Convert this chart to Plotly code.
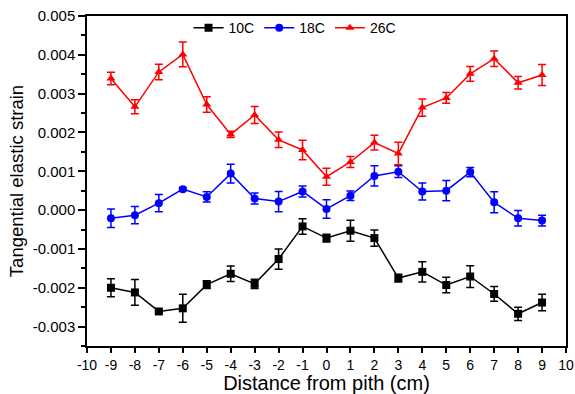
import plotly.graph_objects as go

x = list(range(-9, 10))

y10 = [-0.00200, -0.00212, -0.00261, -0.00253, -0.00192, -0.00164, -0.00190, -0.00126, -0.00042,
       -0.00072, -0.00053, -0.00072, -0.00175, -0.00159, -0.00193, -0.00171, -0.00216, -0.00267, -0.00238]
e10 = [0.00023, 0.00033, 0.00003, 0.00036, 0.00010, 0.00020, 0.00012, 0.00026, 0.00020,
       0.00010, 0.00027, 0.00021, 0.00010, 0.00026, 0.00020, 0.00028, 0.00019, 0.00017, 0.00021]

y18 = [-0.00021, -0.00013, 0.00018, 0.00054, 0.00034, 0.00094, 0.00030, 0.00022, 0.00048,
       0.00003, 0.00037, 0.00088, 0.00099, 0.00048, 0.00050, 0.00098, 0.00020, -0.00021, -0.00027]
e18 = [0.00024, 0.00022, 0.00022, 0.00004, 0.00013, 0.00024, 0.00014, 0.00026, 0.00014,
       0.00024, 0.00012, 0.00026, 0.00015, 0.00022, 0.00026, 0.00012, 0.00027, 0.00020, 0.00014]

y26 = [0.00339, 0.00266, 0.00356, 0.00401, 0.00272, 0.00195, 0.00245, 0.00181, 0.00155,
       0.00086, 0.00124, 0.00174, 0.00146, 0.00264, 0.00289, 0.00351, 0.00390, 0.00328, 0.00348]
e26 = [0.00016, 0.00018, 0.00020, 0.00032, 0.00020, 0.00008, 0.00022, 0.00020, 0.00025,
       0.00022, 0.00014, 0.00019, 0.00029, 0.00022, 0.00014, 0.00019, 0.00020, 0.00016, 0.00027]

series = [
    ("10C", y10, e10, "black", "square"),
    ("18C", y18, e18, "blue", "circle"),
    ("26C", y26, e26, "red", "triangle-up"),
]

xticks = list(range(-10, 11))
xticklabels = [str(v) for v in xticks]
yticks = [-0.003, -0.002, -0.001, 0.0, 0.001, 0.002, 0.003, 0.004, 0.005]
yticklabels = ["-0.003", "-0.002", "-0.001", "0.000", "0.001", "0.002", "0.003", "0.004", "0.005"]
yminor = [-0.0035, -0.0025, -0.0015, -0.0005, 0.0005, 0.0015, 0.0025, 0.0035, 0.0045]

fig = go.Figure()
for name, ys, es, col, sym in series:
    fig.add_trace(go.Scatter(
        x=x, y=ys, name=name, mode="lines+markers",
        line=dict(color=col, width=1.5),
        marker=dict(color=col, symbol=sym, size=8),
        error_y=dict(type="data", array=es, visible=True, color=col, thickness=1.5, width=4),
    ))

font = "Liberation Sans, Arial, sans-serif"
fig.update_layout(
    width=575, height=394,
    margin=dict(l=87, r=9, t=16, b=48),
    paper_bgcolor="white", plot_bgcolor="white",
    font=dict(family=font, color="black", size=15),
    showlegend=True,
    legend=dict(orientation="h", x=0.212, y=1.012, xanchor="left", yanchor="top",
                bgcolor="rgba(0,0,0,0)", font=dict(size=14), itemwidth=30,
                tracegroupgap=0),
    xaxis=dict(range=[-10, 10], tickvals=xticks, ticktext=xticklabels,
               ticks="outside", ticklen=5, tickwidth=1.5, tickcolor="black",
               showline=True, linecolor="black", linewidth=1.5, mirror=True,
               showgrid=False, zeroline=False, automargin=False,
               title=dict(text="Distance from pith (cm)", font=dict(size=20), standoff=0),
               tickfont=dict(size=14)),
    yaxis=dict(range=[-0.0035, 0.005], tickvals=yticks, ticktext=yticklabels,
               ticks="outside", ticklen=7, tickwidth=1.5, tickcolor="black",
               showline=True, linecolor="black", linewidth=1.5, mirror=True,
               showgrid=False, zeroline=False, automargin=False,
               minor=dict(tickvals=yminor, ticks="outside", ticklen=4, tickwidth=1.5,
                          tickcolor="black", showgrid=False),
               title=dict(text="Tangential elastic strain", font=dict(size=18.5), standoff=4),
               tickfont=dict(size=15)),
)

fig.write_html("out.html", config={"displayModeBar": False},
               post_script="document.body.style.margin='0';document.body.style.padding='0';")
